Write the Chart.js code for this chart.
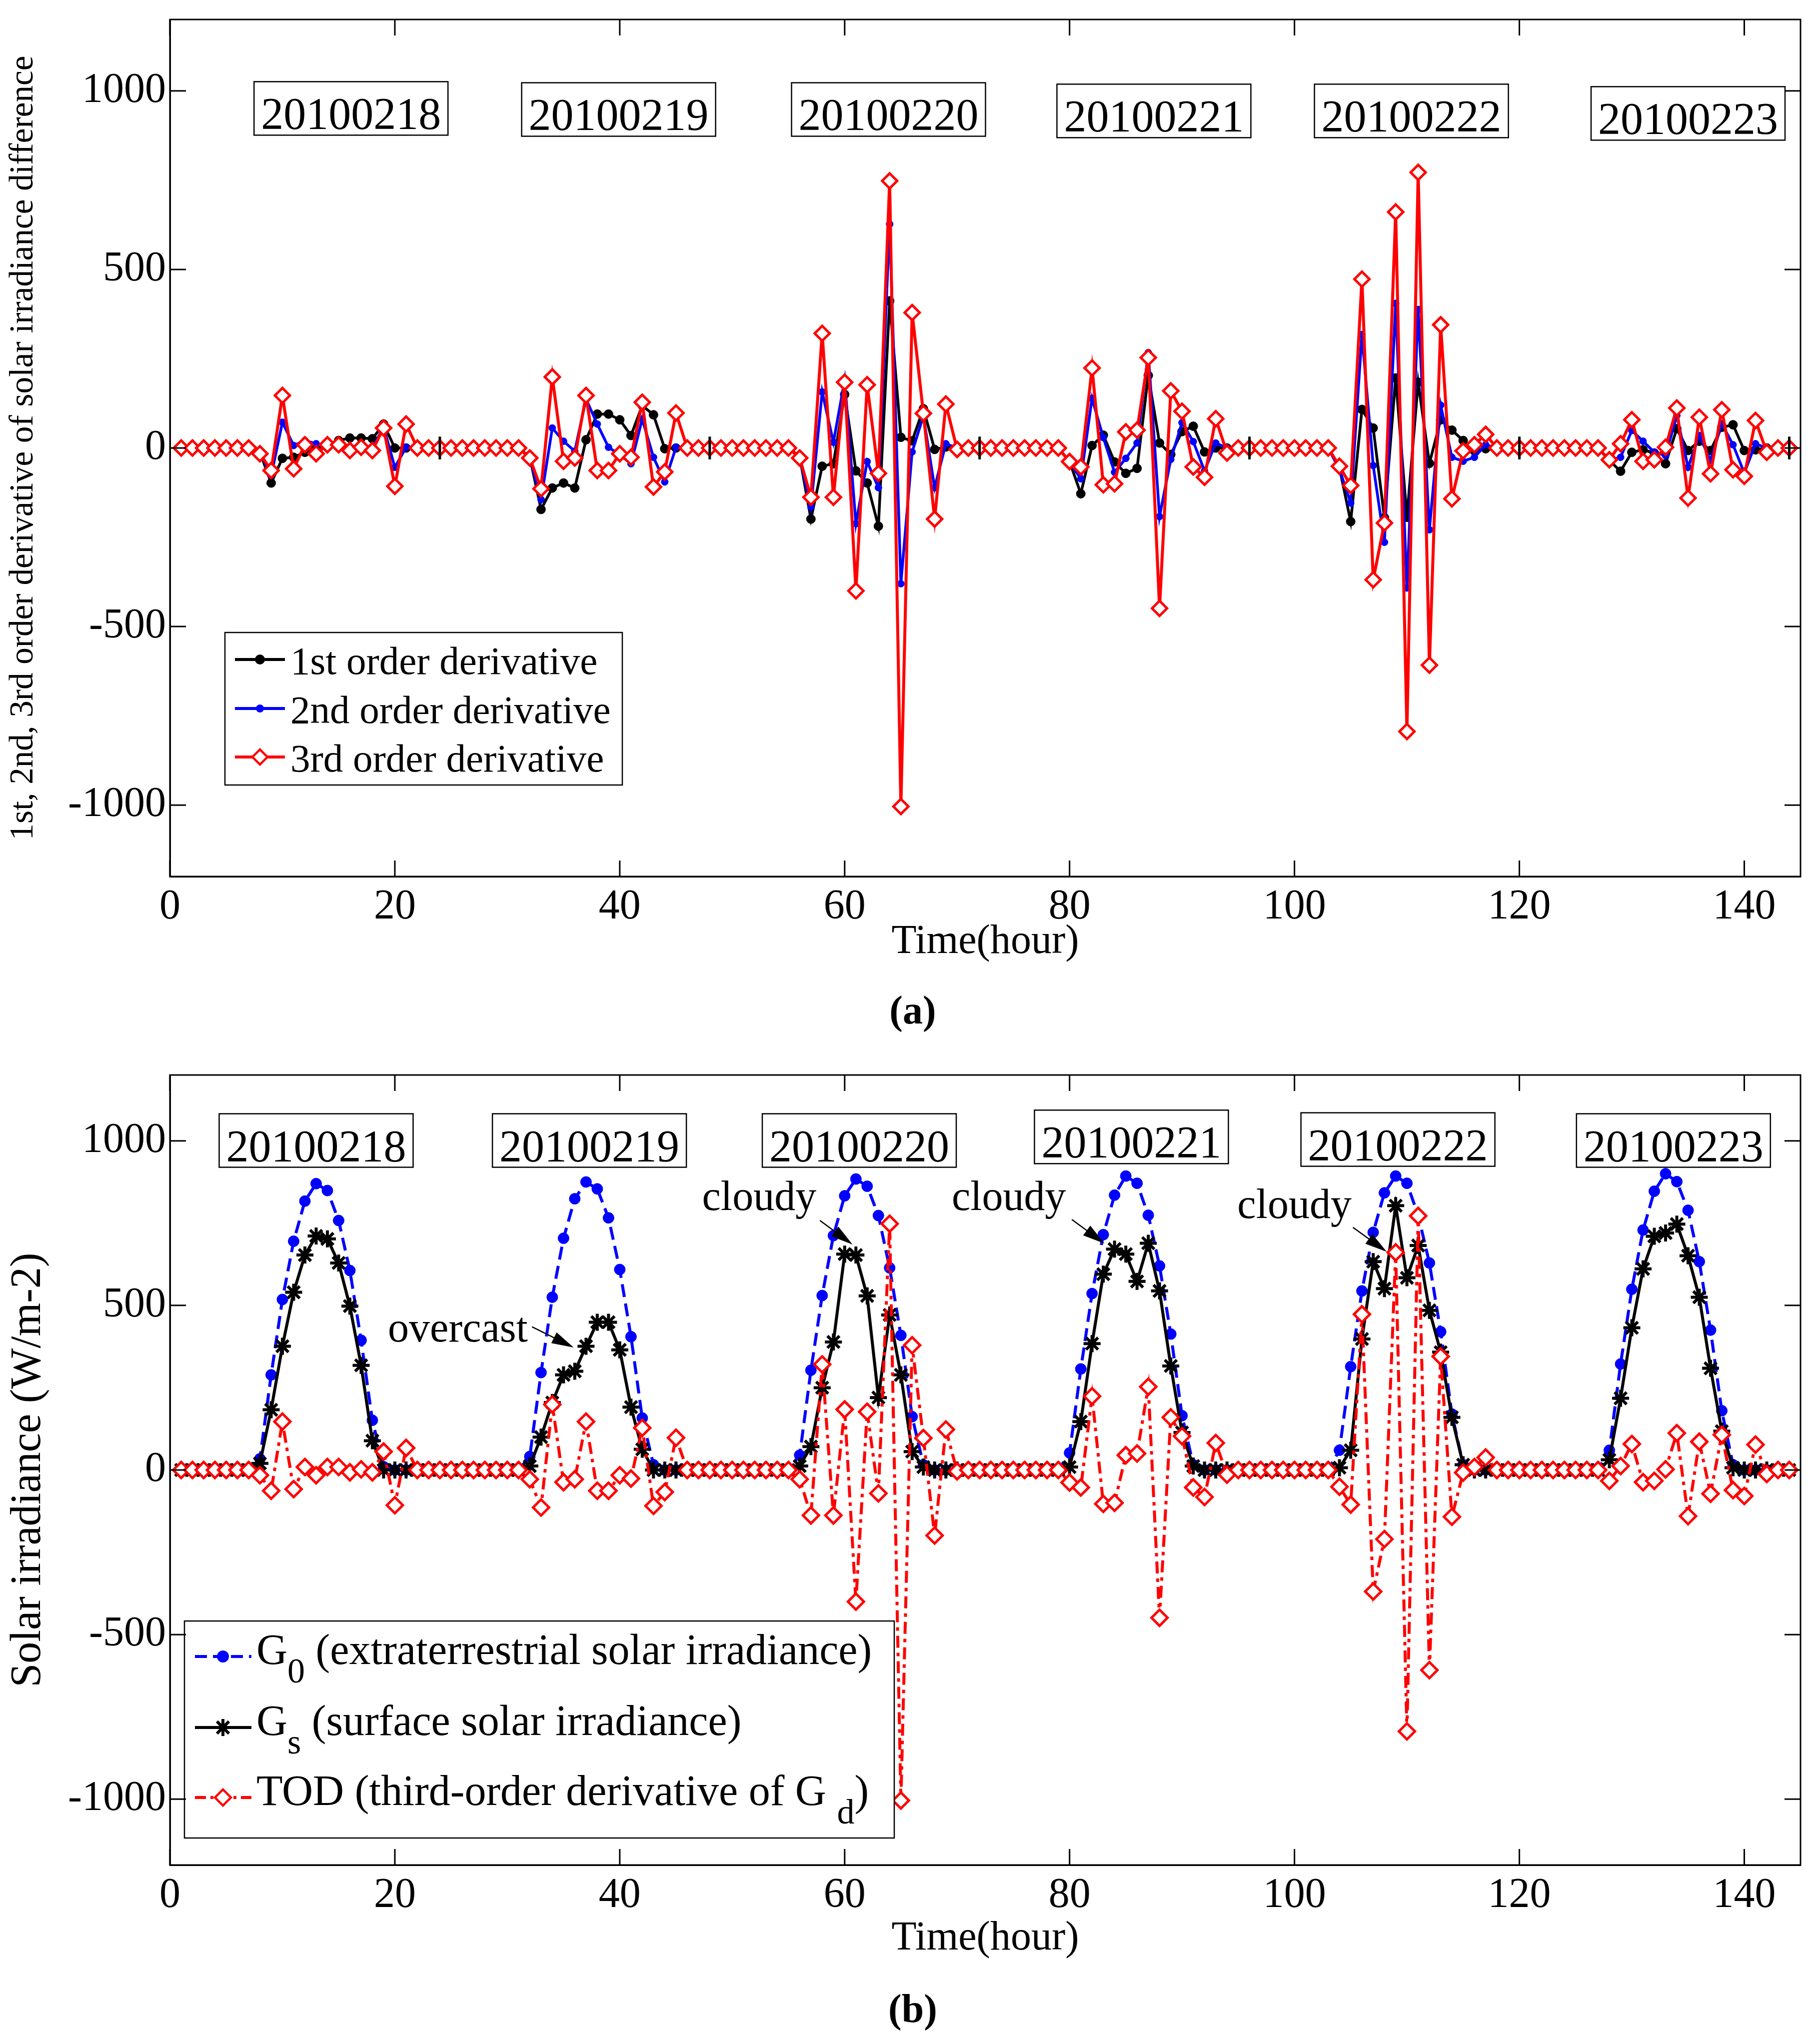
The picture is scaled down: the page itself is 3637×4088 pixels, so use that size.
<!DOCTYPE html>
<html>
<head>
<meta charset="utf-8">
<title>Solar irradiance derivatives</title>
<script src="https://cdn.jsdelivr.net/npm/chart.js@4.4.1/dist/chart.umd.min.js"></script>
<style>
  html, body { margin: 0; padding: 0; background: #fff; }
  body { position: relative; width: 3637px; height: 4088px; overflow: hidden; }
  .panel { position: absolute; left: 0; }
  .tag { position: absolute; left: 1726px; width: 200px; text-align: center;
         font: bold 80px "Liberation Serif", serif; line-height: 80px; color: #000; }
</style>
</head>
<body>
<div class="panel" style="top:0"><canvas id="chartA" width="3637" height="1934"></canvas></div>
<div class="tag" style="top:1980px">(a)</div>
<div class="panel" style="top:2090px"><canvas id="chartB" width="3637" height="1837"></canvas></div>
<div class="tag" style="top:3977px">(b)</div>
<script>
const SERIF = '"Liberation Serif", "Times New Roman", serif';

// hour index, 6 days x 24 h
const hours = Array.from({ length: 144 }, (_, i) => i + 1);
const xTicks = [0, 20, 40, 60, 80, 100, 120, 140];
const yTicks = [-1000, -500, 0, 500, 1000];
const dayLabels = ['20100218', '20100219', '20100220', '20100221', '20100222', '20100223'];

// panel (a) - derivatives of the irradiance difference
const firstOrder = [
  0,0,0,0,0,0,0,-12,-98,-29,-26,-12,2,9,21,28,28,26,67,0,0,0,0,0,
  0,0,0,0,0,0,0,-25,-172,-112,-98,-112,23,95,95,79,35,119,93,-2,0,0,0,0,
  0,0,0,0,0,0,0,-24,-199,-51,-44,150,-64,-98,-219,412,30,20,110,-4,3,0,0,0,
  0,0,0,0,0,0,0,-38,-128,7,36,-39,-71,-57,203,14,-18,46,61,-11,0,0,0,0,
  0,0,0,0,0,0,0,-55,-206,108,56,-195,196,-194,184,-43,79,50,21,-8,-2,0,0,0,
  0,0,0,0,0,0,0,-35,-65,-12,-5,-14,-44,54,-7,19,-7,58,65,-7,-5,0,0,0
];
const secondOrder = [
  0,0,0,0,0,0,0,-12,-77,72,7,21,12,2,5,-2,-5,0,58,-54,2,0,0,0,
  0,0,0,0,0,0,0,-28,-144,56,19,-9,137,67,2,-19,-44,81,-26,-95,2,0,0,0,
  0,0,0,0,0,0,0,-28,-165,157,16,190,-212,-38,-111,627,-380,-11,90,-111,12,0,0,0,
  0,0,0,0,0,0,0,-39,-86,139,29,-68,-29,14,267,-192,-32,71,18,-64,14,0,0,0,
  0,0,0,0,0,0,0,-60,-154,318,-49,-264,405,-392,388,-229,120,-26,-37,-26,9,0,0,0,
  0,0,0,0,0,0,0,-33,-26,49,19,-12,-21,91,-54,35,-35,68,9,-70,12,0,0,0
];
const thirdOrder = [
  0,0,0,0,0,0,0,-16,-63,147,-58,9,-16,9,9,-7,2,-7,56,-107,67,0,0,0,
  0,0,0,0,0,0,0,-28,-114,199,-37,-28,147,-63,-63,-16,-26,128,-109,-67,98,0,0,0,
  0,0,0,0,0,0,0,-28,-138,321,-138,184,-400,177,-71,748,-1004,379,97,-199,123,-4,0,0,
  0,0,0,0,0,0,0,-38,-53,224,-103,-100,45,50,253,-449,160,103,-53,-82,82,-14,0,0,
  0,0,0,0,0,0,0,-51,-105,473,-369,-210,661,-794,772,-608,345,-142,-8,9,38,0,0,0,
  0,0,0,0,0,0,0,-33,12,79,-37,-33,2,112,-140,86,-72,107,-61,-79,77,-12,0,0
];

// panel (b) - irradiance
const g0 = [
  0,0,0,0,0,0,0,34,289,518,695,817,870,849,758,606,394,151,10,0,0,0,0,0,
  0,0,0,0,0,0,0,41,296,525,704,824,875,854,766,609,405,158,16,0,0,0,0,0,
  0,0,0,0,0,0,0,45,303,530,712,833,884,862,773,614,409,162,16,0,0,0,0,0,
  0,0,0,0,0,0,0,52,307,536,715,835,893,871,774,620,413,165,16,0,0,0,0,0,
  0,0,0,0,0,0,0,60,314,544,722,842,893,871,774,629,420,170,16,0,0,0,0,0,
  0,0,0,0,0,0,0,60,322,549,729,847,900,876,789,633,425,180,16,0,0,0,0,0
];
const gs = [
  0,0,0,0,0,0,0,20,183,376,540,653,711,702,629,498,318,89,0,0,0,0,0,0,
  0,0,0,0,0,0,0,12,100,205,289,300,376,449,449,365,191,63,0,0,0,0,0,0,
  0,0,0,0,0,0,0,12,71,250,389,656,653,529,220,471,289,56,9,0,0,0,0,0,
  0,0,0,0,0,0,0,9,147,384,595,671,656,573,689,544,316,114,12,0,0,0,0,0,
  0,0,0,0,0,0,0,7,60,398,633,551,803,584,682,485,358,160,16,0,0,0,0,0,
  0,0,0,0,0,0,0,31,218,432,611,710,720,747,651,525,309,118,7,0,0,0,0,0
];
const tod = thirdOrder;

const INK = '#000000', BLUE = '#0000ff', RED = '#ff0000';

function pts(values) {
  return hours.map((h, i) => ({ x: h, y: values[i] }));
}

// simple marker painter for the hand drawn legends
function marker(ctx, style, r, fill, stroke, bw, x, y) {
  ctx.save();
  ctx.setLineDash([]);
  ctx.fillStyle = fill;
  ctx.strokeStyle = stroke;
  ctx.lineWidth = bw;
  ctx.beginPath();
  if (style === 'circle') {
    ctx.arc(x, y, r, 0, Math.PI * 2);
    ctx.fill(); ctx.stroke();
  } else if (style === 'rectRot') {
    ctx.moveTo(x - r, y); ctx.lineTo(x, y - r); ctx.lineTo(x + r, y); ctx.lineTo(x, y + r);
    ctx.closePath(); ctx.fill(); ctx.stroke();
  } else if (style === 'star') {
    const d = r * Math.SQRT1_2;
    ctx.moveTo(x - r, y); ctx.lineTo(x + r, y);
    ctx.moveTo(x, y - r); ctx.lineTo(x, y + r);
    ctx.moveTo(x - d, y - d); ctx.lineTo(x + d, y + d);
    ctx.moveTo(x - d, y + d); ctx.lineTo(x + d, y - d);
    ctx.stroke();
  }
  ctx.restore();
}

function frame(chart) {
  const { ctx, chartArea: a, scales: { x, y } } = chart;
  const tl = 32;
  ctx.save();
  ctx.setLineDash([]);
  ctx.strokeStyle = INK;
  ctx.lineWidth = 3;
  ctx.strokeRect(a.left, a.top, a.right - a.left, a.bottom - a.top);
  ctx.beginPath();
  xTicks.forEach(v => {
    const px = x.getPixelForValue(v);
    ctx.moveTo(px, a.bottom); ctx.lineTo(px, a.bottom - tl);
    ctx.moveTo(px, a.top); ctx.lineTo(px, a.top + tl);
  });
  yTicks.forEach(v => {
    const py = y.getPixelForValue(v);
    ctx.moveTo(a.left, py); ctx.lineTo(a.left + tl, py);
    ctx.moveTo(a.right, py); ctx.lineTo(a.right - tl, py);
  });
  ctx.stroke();
  ctx.restore();
}

function dateBoxes(chart, at, level) {
  const { ctx, scales: { x, y } } = chart;
  ctx.save();
  ctx.setLineDash([]);
  ctx.font = '90px ' + SERIF;
  ctx.textAlign = 'center';
  ctx.textBaseline = 'alphabetic';
  dayLabels.forEach((t, i) => {
    const cx = x.getPixelForValue(at[i]), cy = y.getPixelForValue(level[i]);
    const w = 388, h = 107;
    ctx.fillStyle = '#fff';
    ctx.fillRect(cx - w / 2, cy - h / 2, w, h);
    ctx.strokeStyle = INK;
    ctx.lineWidth = 2.5;
    ctx.strokeRect(cx - w / 2, cy - h / 2, w, h);
    ctx.fillStyle = INK;
    ctx.fillText(t, cx, cy + h / 2 - 12);
  });
  ctx.restore();
}

function arrow(ctx, x1, y1, x2, y2) {
  const ang = Math.atan2(y2 - y1, x2 - x1), len = 44, half = 12;
  ctx.beginPath();
  ctx.moveTo(x1, y1);
  ctx.lineTo(x2 - Math.cos(ang) * len * 0.7, y2 - Math.sin(ang) * len * 0.7);
  ctx.stroke();
  ctx.beginPath();
  ctx.moveTo(x2, y2);
  ctx.lineTo(x2 - len * Math.cos(ang) + half * Math.sin(ang), y2 - len * Math.sin(ang) - half * Math.cos(ang));
  ctx.lineTo(x2 - len * Math.cos(ang) - half * Math.sin(ang), y2 - len * Math.sin(ang) + half * Math.cos(ang));
  ctx.closePath();
  ctx.fill();
}

const panelA = {
  id: 'panelA',
  afterDatasetsDraw(chart) {
    const { ctx, scales: { x, y } } = chart;
    // day separators on the zero line
    ctx.save();
    ctx.strokeStyle = INK;
    ctx.lineWidth = 5;
    ctx.beginPath();
    [24, 48, 72, 96, 120, 144].forEach(h => {
      const px = x.getPixelForValue(h);
      ctx.moveTo(px, y.getPixelForValue(32));
      ctx.lineTo(px, y.getPixelForValue(-32));
    });
    ctx.stroke();
    ctx.restore();

    dateBoxes(chart, [16.1, 39.9, 63.9, 87.5, 110.4, 135.0], [951, 948, 948, 944, 944, 937]);

    // legend
    ctx.save();
    ctx.fillStyle = '#fff';
    ctx.fillRect(450, 1265, 795, 305);
    ctx.strokeStyle = INK;
    ctx.lineWidth = 2.5;
    ctx.strokeRect(450, 1265, 795, 305);
    const rows = [
      { y: 1319, c: INK, text: '1st order derivative', m: ['circle', 9, INK, INK, 2] },
      { y: 1417, c: BLUE, text: '2nd order derivative', m: ['circle', 7, BLUE, BLUE, 2] },
      { y: 1514, c: RED, text: '3rd order derivative', m: ['rectRot', 15, '#fff', RED, 4.5] }
    ];
    ctx.font = '79px ' + SERIF;
    ctx.textBaseline = 'alphabetic';
    ctx.textAlign = 'left';
    rows.forEach(r => {
      ctx.strokeStyle = r.c;
      ctx.lineWidth = 6;
      ctx.beginPath();
      ctx.moveTo(470, r.y); ctx.lineTo(570, r.y);
      ctx.stroke();
      marker(ctx, r.m[0], r.m[1], r.m[2], r.m[3], r.m[4], 520, r.y);
      ctx.fillStyle = INK;
      ctx.fillText(r.text, 581, r.y + 29);
    });
    ctx.restore();
  },
  afterDraw(chart) { frame(chart); }
};

const panelB = {
  id: 'panelB',
  afterDatasetsDraw(chart) {
    const { ctx, scales: { x, y } } = chart;
    dateBoxes(chart, [13.0, 37.3, 61.3, 85.5, 109.2, 133.7], [1001, 1001, 1001, 1012, 1004, 1001]);

    // weather notes
    ctx.save();
    ctx.fillStyle = INK;
    ctx.strokeStyle = INK;
    ctx.lineWidth = 2.5;
    ctx.font = '84px ' + SERIF;
    ctx.textAlign = 'center';
    ctx.textBaseline = 'alphabetic';
    const notes = [
      { t: 'overcast', x: 25.6, y: 391, a: [32.2, 435, 35.9, 372] },
      { t: 'cloudy', x: 52.4, y: 790, a: [57.8, 758, 60.7, 685] },
      { t: 'cloudy', x: 74.6, y: 790, a: [80.2, 761, 83.1, 688] },
      { t: 'cloudy', x: 100.0, y: 766, a: [105.2, 737, 108.2, 663] }
    ];
    notes.forEach(n => {
      ctx.fillText(n.t, x.getPixelForValue(n.x), y.getPixelForValue(n.y));
      arrow(ctx, x.getPixelForValue(n.a[0]), y.getPixelForValue(n.a[1]),
                 x.getPixelForValue(n.a[2]), y.getPixelForValue(n.a[3]));
    });
    ctx.restore();

    // legend (canvas B starts at page y 2090)
    const top = 3242 - 2090;
    ctx.save();
    ctx.fillStyle = '#fff';
    ctx.fillRect(369, top, 1420, 434);
    ctx.strokeStyle = INK;
    ctx.lineWidth = 2.5;
    ctx.strokeRect(369, top, 1420, 434);
    const rows = [
      { y: 3313 - 2090, c: BLUE, dash: [24, 12], m: ['circle', 11, BLUE, BLUE, 2],
        parts: [['G', 0], ['0', 1], [' (extraterrestrial solar irradiance)', 0]] },
      { y: 3455 - 2090, c: INK, dash: [], m: ['star', 17, INK, INK, 6],
        parts: [['G', 0], ['s', 1], [' (surface solar irradiance)', 0]] },
      { y: 3595 - 2090, c: RED, dash: [22, 9, 6, 9], m: ['rectRot', 16, '#fff', RED, 4.5],
        parts: [['TOD (third-order derivative of G ', 0], ['d', 1], [')', 0]] }
    ];
    ctx.textAlign = 'left';
    ctx.textBaseline = 'alphabetic';
    rows.forEach(r => {
      ctx.strokeStyle = r.c;
      ctx.lineWidth = 6;
      ctx.setLineDash(r.dash);
      ctx.beginPath();
      ctx.moveTo(390, r.y); ctx.lineTo(503, r.y);
      ctx.stroke();
      ctx.setLineDash([]);
      marker(ctx, r.m[0], r.m[1], r.m[2], r.m[3], r.m[4], 446, r.y);
      ctx.fillStyle = INK;
      let cx = 513;
      r.parts.forEach(p => {
        ctx.font = (p[1] ? '70px ' : '86px ') + SERIF;
        ctx.fillText(p[0], cx, r.y + 15 + (p[1] ? 37 : 0));
        cx += ctx.measureText(p[0]).width;
      });
    });
    ctx.restore();
  },
  afterDraw(chart) { frame(chart); }
};

function scales(yTitle, yTitleSize, yTitlePad, xHeight) {
  return {
    x: {
      type: 'linear', min: 0, max: 145,
      grid: { display: false, drawTicks: false },
      border: { display: true, color: INK, width: 3 },
      afterBuildTicks: s => { s.ticks = xTicks.map(v => ({ value: v })); },
      afterFit: s => { s.height = xHeight; },
      ticks: { color: INK, padding: 12, maxRotation: 0, autoSkip: false,
               font: { family: SERIF, size: 84 }, callback: v => String(v) },
      title: { display: true, text: 'Time(hour)', color: INK,
               font: { family: SERIF, size: 82 }, padding: { top: 0, bottom: 0 } }
    },
    y: {
      min: -1200, max: 1200,
      grid: { display: false, drawTicks: false },
      border: { display: true, color: INK, width: 3 },
      afterBuildTicks: s => { s.ticks = yTicks.map(v => ({ value: v })); },
      afterFit: s => { s.width = 340; s.paddingTop = 0; s.paddingBottom = 0; },
      ticks: { color: INK, padding: 8, font: { family: SERIF, size: 84 }, callback: v => String(v) },
      title: { display: true, text: yTitle, color: INK,
               font: { family: SERIF, size: yTitleSize }, padding: { top: yTitlePad, bottom: 0 } }
    }
  };
}

const common = {
  responsive: false,
  animation: false,
  devicePixelRatio: 1,
  plugins: { legend: { display: false }, tooltip: { enabled: false } }
};

new Chart(document.getElementById('chartA'), {
  type: 'line',
  data: {
    datasets: [
      { label: '1st order derivative', data: pts(firstOrder), order: 2,
        borderColor: INK, backgroundColor: INK, borderWidth: 5.5,
        pointStyle: 'circle', pointRadius: 9, pointBorderWidth: 1, tension: 0 },
      { label: '2nd order derivative', data: pts(secondOrder), order: 1,
        borderColor: BLUE, backgroundColor: BLUE, borderWidth: 5.5,
        pointStyle: 'circle', pointRadius: 7, pointBorderWidth: 1, tension: 0 },
      { label: '3rd order derivative', data: pts(thirdOrder), order: 0,
        borderColor: RED, backgroundColor: '#fff', borderWidth: 6,
        pointStyle: 'rectRot', pointRadius: 15, pointBorderWidth: 5, tension: 0 }
    ]
  },
  options: Object.assign({}, common, {
    layout: { padding: { top: 39, right: 35, left: 0, bottom: 0 } },
    scales: scales('1st, 2nd, 3rd order derivative of solar irradiance difference', 67, 7, 181)
  }),
  plugins: [panelA]
});

new Chart(document.getElementById('chartB'), {
  type: 'line',
  data: {
    datasets: [
      { label: 'G0 (extraterrestrial solar irradiance)', data: pts(g0), order: 2,
        borderColor: BLUE, backgroundColor: BLUE, borderWidth: 6, borderDash: [26, 13],
        pointStyle: 'circle', pointRadius: 11, pointBorderWidth: 1, tension: 0 },
      { label: 'Gs (surface solar irradiance)', data: pts(gs), order: 1,
        borderColor: INK, backgroundColor: INK, borderWidth: 6,
        pointStyle: 'star', pointRadius: 17, pointBorderWidth: 6, tension: 0 },
      { label: 'TOD (third-order derivative of Gd)', data: pts(tod), order: 0,
        borderColor: RED, backgroundColor: '#fff', borderWidth: 6, borderDash: [24, 10, 7, 10],
        pointStyle: 'rectRot', pointRadius: 16, pointBorderWidth: 5, tension: 0 }
    ]
  },
  options: Object.assign({}, common, {
    layout: { padding: { top: 60, right: 35, left: 0, bottom: 0 } },
    scales: scales('Solar irradiance (W/m-2)', 86, 6, 197)
  }),
  plugins: [panelB]
});
</script>
</body>
</html>
